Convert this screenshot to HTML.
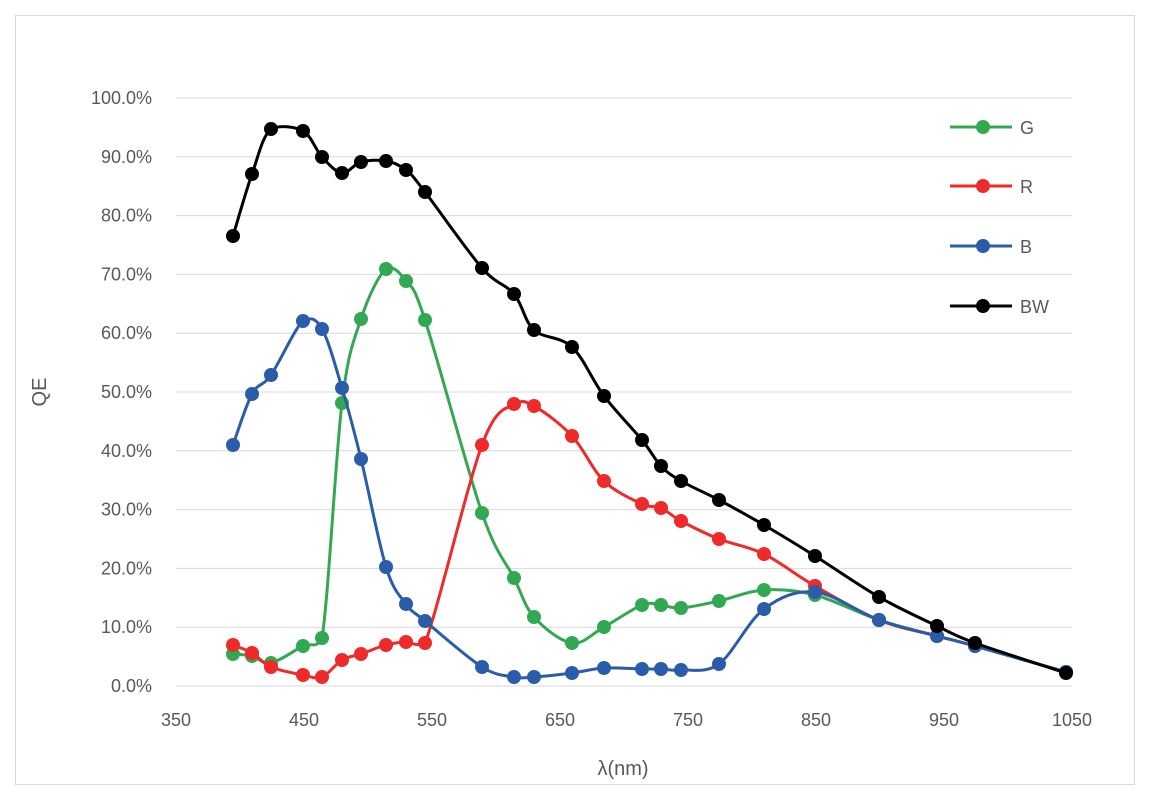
<!DOCTYPE html>
<html><head><meta charset="utf-8"><style>
body{margin:0;background:#fff}
svg text{font-family:"Liberation Sans",sans-serif;fill:#595959}
</style></head><body>
<svg id="s" width="1151" height="797" xmlns="http://www.w3.org/2000/svg">
<rect x="15.5" y="15.5" width="1119" height="769" fill="#fff" stroke="#d9d9d9"/>
<g id="grid" stroke="#d9d9d9" stroke-width="1"></g>
<g font-size="18" text-anchor="end" id="yl"></g>
<g font-size="18" text-anchor="middle" id="xl"></g>
<text x="623" y="775" font-size="20" text-anchor="middle">λ(nm)</text>
<text x="0" y="0" font-size="20" text-anchor="middle" transform="translate(46,392) rotate(-90)">QE</text>
<g id="series"></g>
<g font-size="18">
<text x="1020" y="134">G</text><text x="1020" y="193">R</text><text x="1020" y="253">B</text><text x="1020" y="313">BW</text>
</g>
</svg>
<script>
const NS="http://www.w3.org/2000/svg",g=document.getElementById('grid'),yl=document.getElementById('yl'),xl=document.getElementById('xl');
function el(t,a,p){const e=document.createElementNS(NS,t);for(const k in a)e.setAttribute(k,a[k]);p.appendChild(e);return e}
for(let i=0;i<=10;i++){const y=686-i*58.8;el('line',{x1:176,x2:1072,y1:y,y2:y},g);const t=el('text',{x:152,y:y+6},yl);t.textContent=(i*10).toFixed(1)+'%';}
for(let i=0;i<8;i++){const t=el('text',{x:176+i*128,y:726},xl);t.textContent=350+i*100;}
const S={
BW:["#000",[[233,236],[252,174],[271,129],[303,131],[322,157],[342,173],[361,162],[386,161],[406,170],[425,192],[482,268],[514,294],[534,330],[572,347],[604,396],[642,440],[661,466],[681,481],[719,500],[764,525],[815,556],[879,597],[937,626],[975,643],[1066,673]]],
B:["#2a5caa",[[233,445],[252,394],[271,375],[303,321],[322,329],[342,388],[361,459],[386,567],[406,604],[425,621],[482,667],[514,677],[534,677],[572,673],[604,668],[642,669],[661,669],[681,670],[719,664],[764,609],[815,592],[879,620],[937,636],[975,646],[1066,672]]],
R:["#ee2a2a",[[233,645],[252,653],[271,667],[303,675],[322,677],[342,660],[361,654],[386,645],[406,642],[425,643],[482,445],[514,404],[534,406],[572,436],[604,481],[642,504],[661,508],[681,521],[719,539],[764,554],[815,586],[879,620],[937,636],[975,646],[1066,672]]],
G:["#33a852",[[233,654],[252,656],[271,663],[303,646],[322,638],[342,403],[361,319],[386,269],[406,281],[425,320],[482,513],[514,578],[534,617],[572,643],[604,627],[642,605],[661,605],[681,608],[719,601],[764,590],[815,595],[879,620],[937,636],[975,646],[1066,672]]]};
const sg=document.getElementById('series');
const leg={G:127,R:186,B:246,BW:306};
function cl(v,a,b,m){const lo=Math.min(a,b)-m,hi=Math.max(a,b)+m;return Math.max(lo,Math.min(hi,v));}
for(const k of ['G','R','B','BW']){const [c,p]=S[k];let d='M'+p[0];const t=0.5/3;
for(let i=0;i<p.length-1;i++){const p0=p[i-1]||p[i],p1=p[i],p2=p[i+1],p3=p[i+2]||p2;
const c1y=cl(p1[1]+(p2[1]-p0[1])*t,p1[1],p2[1],4),c2y=cl(p2[1]-(p3[1]-p1[1])*t,p1[1],p2[1],4);
d+=` C${p1[0]+(p2[0]-p0[0])*t},${c1y} ${p2[0]-(p3[0]-p1[0])*t},${c2y} ${p2[0]},${p2[1]}`;}
el('path',{d,fill:'none',stroke:c,'stroke-width':3},sg);
p.forEach(q=>el('circle',{cx:q[0],cy:q[1],r:7,fill:c},sg));
el('line',{x1:950,x2:1012,y1:leg[k],y2:leg[k],stroke:c,'stroke-width':3},sg);
el('circle',{cx:983,cy:leg[k],r:7,fill:c},sg);}
</script>
</body></html>
